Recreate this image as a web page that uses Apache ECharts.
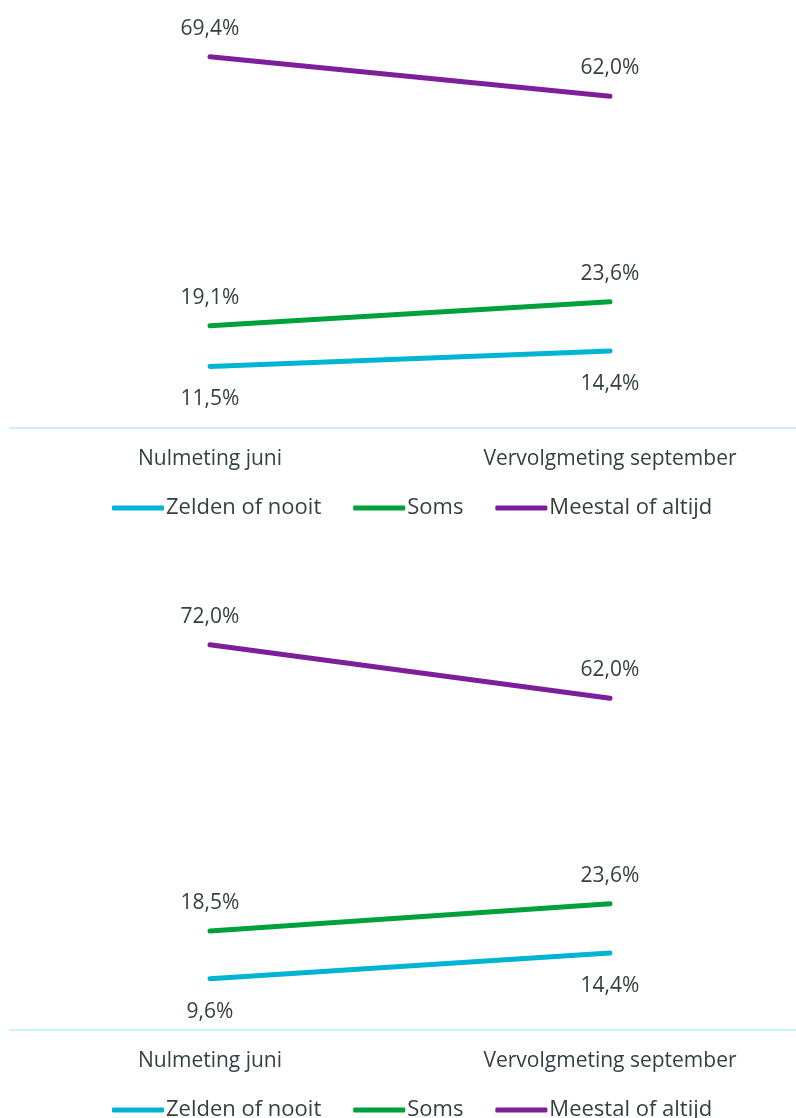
<!DOCTYPE html>
<html>
<head>
<meta charset="utf-8">
<script src="https://cdn.jsdelivr.net/npm/echarts@6/dist/echarts.min.js"></script>
<style>
  html, body { margin: 0; padding: 0; background: #fff; }
  #chart { width: 796px; height: 1118px; }
</style>
</head>
<body>
<div id="chart"></div>
<script>
const categories = ['Nulmeting juni', 'Vervolgmeting september'];
const seriesNames = ['Zelden of nooit', 'Soms', 'Meestal of altijd'];
const colors = ['#00b4d3', '#00a13a', '#7d1f9a'];

// bovenste grafiek
const top_zelden = [11.5, 14.4];
const top_soms = [19.1, 23.6];
const top_meestal = [69.4, 62.0];

// onderste grafiek
const bottom_zelden = [9.6, 14.4];
const bottom_soms = [18.5, 23.6];
const bottom_meestal = [72.0, 62.0];

const textColor = '#34403f';
const font = 'Open Sans';

const fmt = p => p.value.toFixed(1).replace('.', ',') + '%';

function makeSeries(name, data, idx, color, pos) {
    return {
        name: name,
        type: 'line',
        xAxisIndex: idx,
        yAxisIndex: idx,
        data: data,
        symbol: 'circle',
        symbolSize: 1,
        lineStyle: { width: 5, color: color, cap: 'round' },
        itemStyle: { color: color },
        label: {
            show: true,
            position: pos,
            distance: pos === 'top' ? 17 : 22,
            formatter: fmt,
            color: textColor,
            fontSize: 21,
            fontFamily: font
        }
    };
}

function makeLegend(top) {
    return {
        top: top,
        left: 107,
        icon: 'roundRect',
        itemWidth: 52,
        itemHeight: 5,
        itemGap: 32,
        data: seriesNames,
        textStyle: { color: textColor, fontSize: 22, fontFamily: font, padding: [0, 0, 0, -3] }
    };
}

const xAxisBase = {
    type: 'category',
    data: categories,
    axisLine: { lineStyle: { color: '#c9f1f8', width: 2 } },
    axisTick: { show: false },
    axisLabel: { color: textColor, fontSize: 21, fontFamily: font, margin: 21 }
};
const yAxisBase = {
    type: 'value',
    min: 0,
    max: 80,
    show: false,
    splitLine: { show: false }
};

const chart = echarts.init(document.getElementById('chart'));
chart.setOption({
    animation: false,
    color: colors,
    grid: [
        { left: 10, width: 800, top: 0, height: 428, outerBoundsMode: 'none', containLabel: false },
        { left: 10, width: 800, top: 602, height: 428, outerBoundsMode: 'none', containLabel: false }
    ],
    legend: [makeLegend(492), makeLegend(1094)],
    xAxis: [Object.assign({ gridIndex: 0 }, xAxisBase), Object.assign({ gridIndex: 1 }, xAxisBase)],
    yAxis: [Object.assign({ gridIndex: 0 }, yAxisBase), Object.assign({ gridIndex: 1 }, yAxisBase)],
    series: [
        makeSeries(seriesNames[0], top_zelden, 0, colors[0], 'bottom'),
        makeSeries(seriesNames[1], top_soms, 0, colors[1], 'top'),
        makeSeries(seriesNames[2], top_meestal, 0, colors[2], 'top'),
        makeSeries(seriesNames[0], bottom_zelden, 1, colors[0], 'bottom'),
        makeSeries(seriesNames[1], bottom_soms, 1, colors[1], 'top'),
        makeSeries(seriesNames[2], bottom_meestal, 1, colors[2], 'top')
    ]
});
</script>
</body>
</html>
